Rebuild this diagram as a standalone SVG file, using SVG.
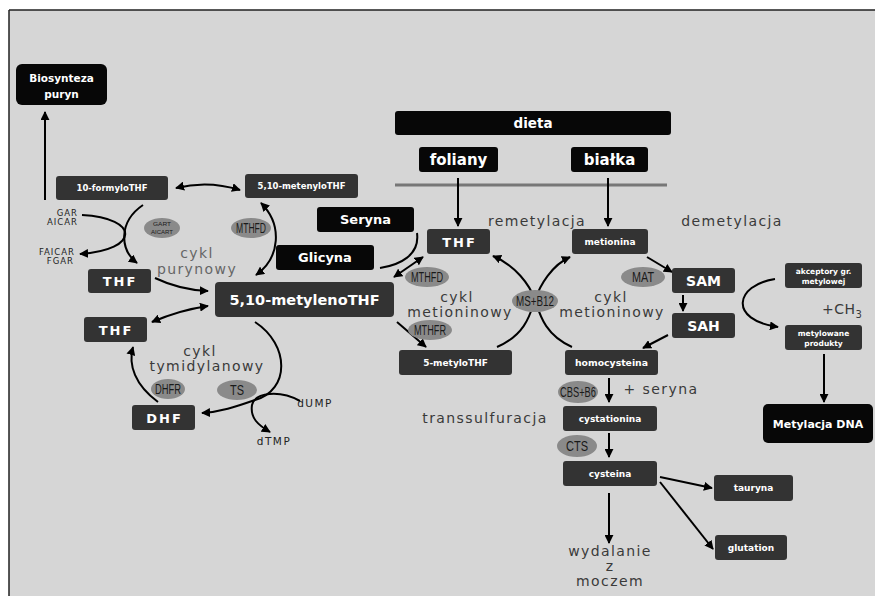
<svg xmlns="http://www.w3.org/2000/svg" width="875" height="596" viewBox="0 0 875 596">
<defs>
<marker id="ah" viewBox="0 0 10 10" refX="9" refY="5" markerWidth="9" markerHeight="9" markerUnits="userSpaceOnUse" orient="auto-start-reverse">
<path d="M0,0 L10,5 L0,10 z" fill="#000"/>
</marker>
<style>
.bx{fill:#333333;}
.bk{fill:#070707;}
.tw{fill:#ffffff;font-family:"DejaVu Sans",sans-serif;font-weight:bold;text-anchor:middle;}
.lb{fill:#3a3a3a;font-family:"DejaVu Sans",sans-serif;font-size:14px;letter-spacing:1.4px;text-anchor:middle;}
.sm{fill:#222222;font-family:"DejaVu Sans",sans-serif;font-size:8.5px;letter-spacing:1px;text-anchor:end;}
.el{fill:#8a8a8a;}
.et{fill:#1a1a1a;font-family:"Liberation Sans",sans-serif;font-size:14px;text-anchor:middle;}
.cn{fill:none;stroke:#000;stroke-width:2;}
</style>
</defs>
<rect x="0" y="0" width="875" height="596" fill="#ffffff"/>
<rect x="9" y="10" width="866" height="586" fill="#d6d6d6"/>
<path d="M9,10 L875,10 M9,10 L9,596" stroke="#222" stroke-width="1.5" fill="none"/>
<path d="M395,185 L667,185" stroke="#777" stroke-width="3"/>

<g id="connectors">
<path class="cn" d="M45,200 L45,112" marker-end="url(#ah)"/>
<path class="cn" d="M176,188 Q208,180 240,190" marker-start="url(#ah)" marker-end="url(#ah)"/>
<path class="cn" d="M82,215 C140,218 140,250 80,254" marker-end="url(#ah)"/>
<path class="cn" d="M143,205 C118,222 120,250 137,263" marker-end="url(#ah)"/>
<path class="cn" d="M261,203 C283,225 280,258 256,275" marker-start="url(#ah)" marker-end="url(#ah)"/>
<path class="cn" d="M417,233 C420,255 400,265 380,268"/>
<path class="cn" d="M394,277 L423,257" marker-start="url(#ah)" marker-end="url(#ah)"/>
<path class="cn" d="M155,278 Q180,290 208,291" marker-end="url(#ah)"/>
<path class="cn" d="M208,306 Q180,310 152,322" marker-start="url(#ah)" marker-end="url(#ah)"/>
<path class="cn" d="M158,402 C135,385 128,365 133,347" marker-end="url(#ah)"/>
<path class="cn" d="M255,322 C290,345 290,390 255,400 C235,407 220,412 202,413" marker-end="url(#ah)"/>
<path class="cn" d="M300,401 C280,390 255,392 252,405 C250,418 258,425 270,432" marker-end="url(#ah)"/>
<path class="cn" d="M458,178 L458,226" marker-end="url(#ah)"/>
<path class="cn" d="M608,178 L608,226" marker-end="url(#ah)"/>
<path class="cn" d="M397,322 L426,347" marker-end="url(#ah)"/>
<path class="cn" d="M497,347 C525,335 530,315 535,300 C540,285 552,265 570,257" marker-end="url(#ah)"/>
<path class="cn" d="M572,347 C545,335 540,315 535,300 C530,285 515,265 493,256" marker-end="url(#ah)"/>
<path class="cn" d="M647,257 L672,272" marker-end="url(#ah)"/>
<path class="cn" d="M683,295 L683,311" marker-end="url(#ah)"/>
<path class="cn" d="M668,335 L643,348" marker-end="url(#ah)"/>
<path class="cn" d="M775,279 C735,285 728,320 778,327" marker-end="url(#ah)"/>
<path class="cn" d="M824,354 L824,402" stroke-width="2.5" marker-end="url(#ah)"/>
<path class="cn" d="M609,378 L609,402" marker-end="url(#ah)"/>
<path class="cn" d="M609,433 L609,457" marker-end="url(#ah)"/>
<path class="cn" d="M609,493 L609,543" marker-end="url(#ah)"/>
<path class="cn" d="M660,477 L712,488" marker-end="url(#ah)"/>
<path class="cn" d="M660,482 L713,549" marker-end="url(#ah)"/>
</g>

<g id="biosynteza"><rect class="bk" x="16" y="64" width="91" height="41" rx="6"/><text class="tw" x="61.5" y="82" font-size="10.5">Biosynteza</text><text class="tw" x="61.5" y="98" font-size="10.5">puryn</text></g>
<g id="formylothf"><rect class="bx" x="56" y="176" width="112" height="24" rx="3"/><text class="tw" x="112" y="191" font-size="8.5">10-formyloTHF</text></g>
<g id="metenylothf"><rect class="bx" x="245" y="174" width="113" height="24" rx="3"/><text class="tw" x="301.5" y="189" font-size="8.5">5,10-metenyloTHF</text></g>
<g id="seryna"><rect class="bk" x="317" y="207" width="97" height="25" rx="3"/><text class="tw" x="365.5" y="224" font-size="13">Seryna</text></g>
<g id="glicyna"><rect class="bk" x="276" y="245" width="98" height="25" rx="3"/><text class="tw" x="325" y="262" font-size="13">Glicyna</text></g>
<g id="metylenothf"><rect class="bx" x="215" y="282" width="179" height="35" rx="4"/><text class="tw" x="304.5" y="305" font-size="14.5">5,10-metylenoTHF</text></g>
<g id="thf1"><rect class="bx" x="88" y="269" width="63" height="24" rx="3"/><text class="tw" x="120" y="286" font-size="13" letter-spacing="2">THF</text></g>
<g id="thf2"><rect class="bx" x="84" y="317" width="63" height="25" rx="3"/><text class="tw" x="116" y="334.5" font-size="13" letter-spacing="2">THF</text></g>
<g id="dhf"><rect class="bx" x="132" y="405" width="63" height="25" rx="3"/><text class="tw" x="164.5" y="422.5" font-size="13" letter-spacing="2">DHF</text></g>
<g id="dieta"><rect class="bk" x="395" y="111" width="276" height="24" rx="3"/><text class="tw" x="533" y="128" font-size="13.5">dieta</text></g>
<g id="foliany"><rect class="bk" x="419" y="147" width="79" height="25" rx="3"/><text class="tw" x="458.5" y="165" font-size="15">foliany</text></g>
<g id="bialka"><rect class="bk" x="571" y="147" width="77" height="25" rx="3"/><text class="tw" x="609.5" y="165" font-size="15">białka</text></g>
<g id="thf3"><rect class="bx" x="427" y="229" width="63" height="25" rx="3"/><text class="tw" x="459.5" y="246.5" font-size="13" letter-spacing="2">THF</text></g>
<g id="metionina"><rect class="bx" x="572" y="229" width="76" height="25" rx="3"/><text class="tw" x="610" y="245" font-size="9">metionina</text></g>
<g id="metylothf"><rect class="bx" x="399" y="350" width="113" height="25" rx="3"/><text class="tw" x="455.5" y="366" font-size="9">5-metyloTHF</text></g>
<g id="homocysteina"><rect class="bx" x="565" y="350" width="93" height="25" rx="3"/><text class="tw" x="611.5" y="366" font-size="9.3">homocysteina</text></g>
<g id="sam"><rect class="bx" x="672" y="268" width="63" height="25" rx="3"/><text class="tw" x="703.5" y="285.5" font-size="14">SAM</text></g>
<g id="sah"><rect class="bx" x="672" y="313" width="63" height="25" rx="3"/><text class="tw" x="703.5" y="330.5" font-size="14">SAH</text></g>
<g id="akceptory"><rect class="bx" x="785" y="263" width="77" height="25" rx="3"/><text class="tw" x="823.5" y="274" font-size="7.5">akceptory gr.</text><text class="tw" x="823.5" y="284" font-size="7.5">metylowej</text></g>
<g id="metylowane"><rect class="bx" x="785" y="325" width="77" height="25" rx="3"/><text class="tw" x="823.5" y="336" font-size="7.5">metylowane</text><text class="tw" x="823.5" y="346" font-size="7.5">produkty</text></g>
<g id="metylacjadna"><rect class="bk" x="763" y="404" width="110" height="39" rx="5"/><text class="tw" x="818" y="428" font-size="11">Metylacja DNA</text></g>
<g id="cystationina"><rect class="bx" x="563" y="406" width="94" height="25" rx="3"/><text class="tw" x="610" y="422" font-size="9">cystationina</text></g>
<g id="cysteina"><rect class="bx" x="563" y="461" width="94" height="25" rx="3"/><text class="tw" x="610" y="477" font-size="9">cysteina</text></g>
<g id="tauryna"><rect class="bx" x="714" y="475" width="79" height="26" rx="3"/><text class="tw" x="753.5" y="491" font-size="9">tauryna</text></g>
<g id="glutation"><rect class="bx" x="715" y="535" width="72" height="25" rx="3"/><text class="tw" x="751" y="551" font-size="9">glutation</text></g>

<g id="enzymes">
<ellipse class="el" cx="162" cy="228" rx="18" ry="10"/><text class="et" x="162" y="225.5" font-size="6" style="font-size:6px" textLength="18" lengthAdjust="spacingAndGlyphs">GART</text><text class="et" x="162" y="233.5" style="font-size:6px" textLength="22" lengthAdjust="spacingAndGlyphs">AICART</text>
<ellipse class="el" cx="251" cy="228" rx="20" ry="10"/><text class="et" x="251" y="233" textLength="30" lengthAdjust="spacingAndGlyphs">MTHFD</text>
<ellipse class="el" cx="427" cy="277" rx="22" ry="10"/><text class="et" x="427" y="282" textLength="32" lengthAdjust="spacingAndGlyphs">MTHFD</text>
<ellipse class="el" cx="430" cy="330" rx="22" ry="10"/><text class="et" x="430" y="335" textLength="32" lengthAdjust="spacingAndGlyphs">MTHFR</text>
<ellipse class="el" cx="535" cy="301" rx="23" ry="11"/><text class="et" x="535" y="306" textLength="38" lengthAdjust="spacingAndGlyphs">MS+B12</text>
<ellipse class="el" cx="643" cy="277" rx="22" ry="10"/><text class="et" x="643" y="282" textLength="22" lengthAdjust="spacingAndGlyphs">MAT</text>
<ellipse class="el" cx="168" cy="389" rx="17" ry="10"/><text class="et" x="168" y="394" textLength="26" lengthAdjust="spacingAndGlyphs">DHFR</text>
<ellipse class="el" cx="237" cy="390" rx="20" ry="10"/><text class="et" x="237" y="395" textLength="14" lengthAdjust="spacingAndGlyphs">TS</text>
<ellipse class="el" cx="578" cy="392" rx="20" ry="11"/><text class="et" x="578" y="397" textLength="36" lengthAdjust="spacingAndGlyphs">CBS+B6</text>
<ellipse class="el" cx="577" cy="446" rx="20" ry="11"/><text class="et" x="577" y="451" textLength="22" lengthAdjust="spacingAndGlyphs">CTS</text>
</g>

<g id="labels">
<text class="sm" x="78" y="215.5">GAR</text>
<text class="sm" x="78" y="224.5">AICAR</text>
<text class="sm" x="75" y="255">FAICAR</text>
<text class="sm" x="74" y="264">FGAR</text>
<text class="lb" x="197" y="258" style="fill:#666">cykl</text>
<text class="lb" x="197" y="274" style="fill:#666">purynowy</text>
<text class="lb" x="200" y="356">cykl</text>
<text class="lb" x="207" y="371">tymidylanowy</text>
<text class="lb" x="457" y="302">cykl</text>
<text class="lb" x="460" y="317">metioninowy</text>
<text class="lb" x="611" y="302">cykl</text>
<text class="lb" x="612" y="317">metioninowy</text>
<text class="lb" x="537" y="226">remetylacja</text>
<text class="lb" x="732" y="226">demetylacja</text>
<text class="lb" x="661" y="394">+ seryna</text>
<text class="lb" x="485" y="423">transsulfuracja</text>
<text class="lb" x="610" y="556">wydalanie</text>
<text class="lb" x="610" y="571">z</text>
<text class="lb" x="610" y="586">moczem</text>
<text class="lb" x="315" y="407" style="font-size:10.5px;letter-spacing:1.5px;fill:#222">dUMP</text>
<text class="lb" x="274" y="445" style="font-size:10.5px;letter-spacing:1.5px;fill:#222">dTMP</text>
<text class="lb" x="822" y="314" style="text-anchor:start;font-size:14px;letter-spacing:0.5px">+CH<tspan dy="4" font-size="10">3</tspan></text>
</g>
</svg>
